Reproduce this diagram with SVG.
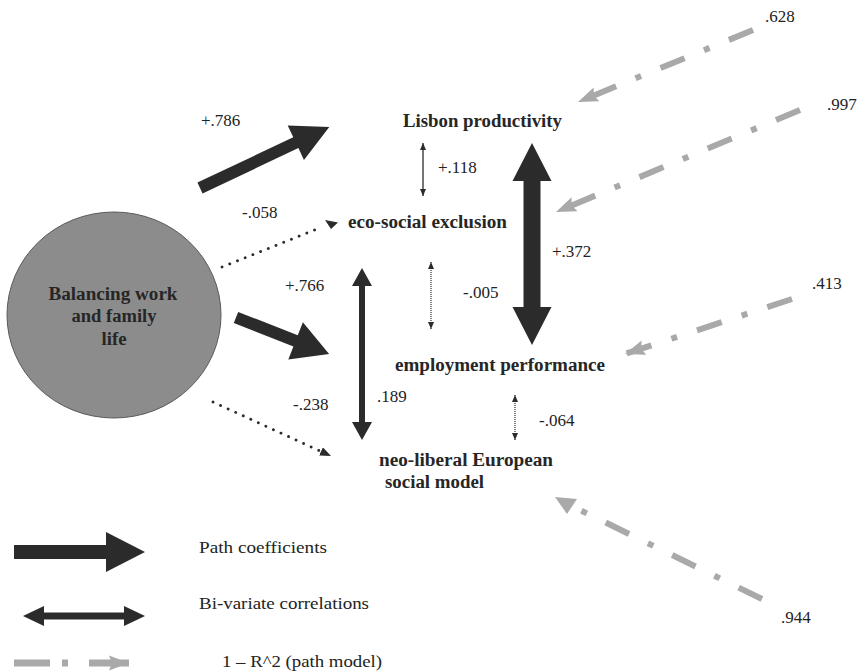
<svg xmlns="http://www.w3.org/2000/svg" width="861" height="672" viewBox="0 0 861 672">
<style>
.lbl{font-family:"Liberation Serif","Times New Roman",serif;font-size:18px;font-weight:bold;fill:#262626}
.num{font-family:"Liberation Serif","Times New Roman",serif;font-size:17px;fill:#222}
.thick{fill:#2b2b2b}
.dot{fill:none;stroke:#2b2b2b;stroke-width:2.8;stroke-linecap:round;stroke-dasharray:0.1 8.2}
.thin{fill:none;stroke:#2b2b2b;stroke-width:1.3}
.thindot{fill:none;stroke:#2b2b2b;stroke-width:1.2;stroke-dasharray:1 1}
.resid{fill:none;stroke:#a9a9a9;stroke-width:6;stroke-dasharray:26 21 6 21}
</style>
<defs>
<marker id="gh" viewBox="0 0 20 16" refX="20" refY="8" markerWidth="20" markerHeight="16" markerUnits="userSpaceOnUse" orient="auto">
<path d="M0,0.5 L20,8 L0,15.5 L3,8 z" fill="#a9a9a9"/>
</marker>
<marker id="dh" viewBox="0 0 11 9" refX="11" refY="4.5" markerWidth="11" markerHeight="9" markerUnits="userSpaceOnUse" orient="auto">
<path d="M0,0 L11,4.5 L0,9 z" fill="#2b2b2b"/>
</marker>
<marker id="th" viewBox="0 0 7 6" refX="7" refY="3" markerWidth="7" markerHeight="6" markerUnits="userSpaceOnUse" orient="auto-start-reverse">
<path d="M0,0 L7,3 L0,6 z" fill="#2b2b2b"/>
</marker>
</defs>
<rect width="861" height="672" fill="#ffffff"/>

<g id="connectors">
<!-- path coefficients -->
<polygon class="thick" transform="translate(200,188) rotate(-25.3)" points="0,-6 106,-6 106,-19 143,0 106,19 106,6 0,6"/>
<polygon class="thick" transform="translate(236,317.5) rotate(21.4)" points="0,-6 64,-6 64,-20 100,0 64,20 64,6 0,6"/>
<path class="dot" d="M222,267 L322,227"/>
<polygon class="thick" points="325,220 338,222.5 331,229"/>
<path class="dot" d="M213,402 L331,456" marker-end="url(#dh)"/>
<!-- bivariate correlations -->
<polygon class="thick" points="532,143 551.5,181 540.5,181 540.5,307 551.5,307 532,345 512.5,307 523.5,307 523.5,181 512.5,181"/>
<polygon class="thick" points="362,268 372,286 365,286 365,422 372,422 362,440 352,422 359,422 359,286 352,286"/>
<path class="thin" d="M423,143 L423,196" marker-start="url(#th)" marker-end="url(#th)"/>
<path class="thindot" d="M431,262 L431,329" marker-start="url(#th)" marker-end="url(#th)"/>
<path class="thindot" d="M515,395 L515,440" marker-start="url(#th)" marker-end="url(#th)"/>
<!-- residuals -->
<path class="resid" d="M753,30 L578,102" marker-end="url(#gh)"/>
<path class="resid" d="M800,110 L556,212" marker-end="url(#gh)"/>
<path class="resid" d="M792,299 L625,354" marker-end="url(#gh)"/>
<path class="resid" d="M762,599 L578,509"/>
<polygon points="555,497 577,499 567,514" fill="#a9a9a9"/>
</g>

<g id="node-balancing">
<ellipse cx="114" cy="315" rx="107" ry="103" fill="#8c8c8c" stroke="#5a5a5a" stroke-width="1"/>
<text class="lbl" x="113" y="300" text-anchor="middle" textLength="129" lengthAdjust="spacingAndGlyphs">Balancing work</text>
<text class="lbl" x="114" y="322" text-anchor="middle" textLength="85" lengthAdjust="spacingAndGlyphs">and family</text>
<text class="lbl" x="114" y="345" text-anchor="middle" textLength="25" lengthAdjust="spacingAndGlyphs">life</text>
</g>
<g id="node-lisbon">
<text class="lbl" x="403" y="127" textLength="159" lengthAdjust="spacingAndGlyphs">Lisbon productivity</text>
</g>
<g id="node-eco">
<text class="lbl" x="348" y="228" textLength="159" lengthAdjust="spacingAndGlyphs">eco-social exclusion</text>
</g>
<g id="node-employment">
<text class="lbl" x="395" y="371" textLength="210" lengthAdjust="spacingAndGlyphs">employment performance</text>
</g>
<g id="node-neoliberal">
<text class="lbl" x="379" y="466" textLength="174" lengthAdjust="spacingAndGlyphs">neo-liberal European</text>
<text class="lbl" x="385" y="488" textLength="99" lengthAdjust="spacingAndGlyphs">social model</text>
</g>

<g id="labels">
<text class="num" x="201" y="126">+.786</text>
<text class="num" x="438" y="173">+.118</text>
<text class="num" x="242" y="218">-.058</text>
<text class="num" x="552" y="257">+.372</text>
<text class="num" x="285" y="291">+.766</text>
<text class="num" x="463" y="298">-.005</text>
<text class="num" x="377" y="402">.189</text>
<text class="num" x="293" y="410">-.238</text>
<text class="num" x="539" y="426">-.064</text>
<text class="num" x="765" y="22">.628</text>
<text class="num" x="827" y="110">.997</text>
<text class="num" x="812" y="289">.413</text>
<text class="num" x="781" y="623">.944</text>
</g>

<g id="legend">
<polygon class="thick" points="14,545 106,545 106,532 145,552 106,572 106,559 14,559"/>
<polygon class="thick" points="23,616 44,606 44,612.5 124,612.5 124,606 145,616 124,626 124,619.5 44,619.5 44,626"/>
<path d="M14,663 L129,663" fill="none" stroke="#a9a9a9" stroke-width="7" stroke-dasharray="36 12 6 21 40" marker-end="url(#gh)"/>
<text class="num" x="199" y="553" textLength="128" lengthAdjust="spacingAndGlyphs">Path coefficients</text>
<text class="num" x="199" y="609" textLength="170" lengthAdjust="spacingAndGlyphs">Bi-variate correlations</text>
<text class="num" x="222" y="667" textLength="160" lengthAdjust="spacingAndGlyphs">1 – R^2 (path model)</text>
</g>
</svg>
